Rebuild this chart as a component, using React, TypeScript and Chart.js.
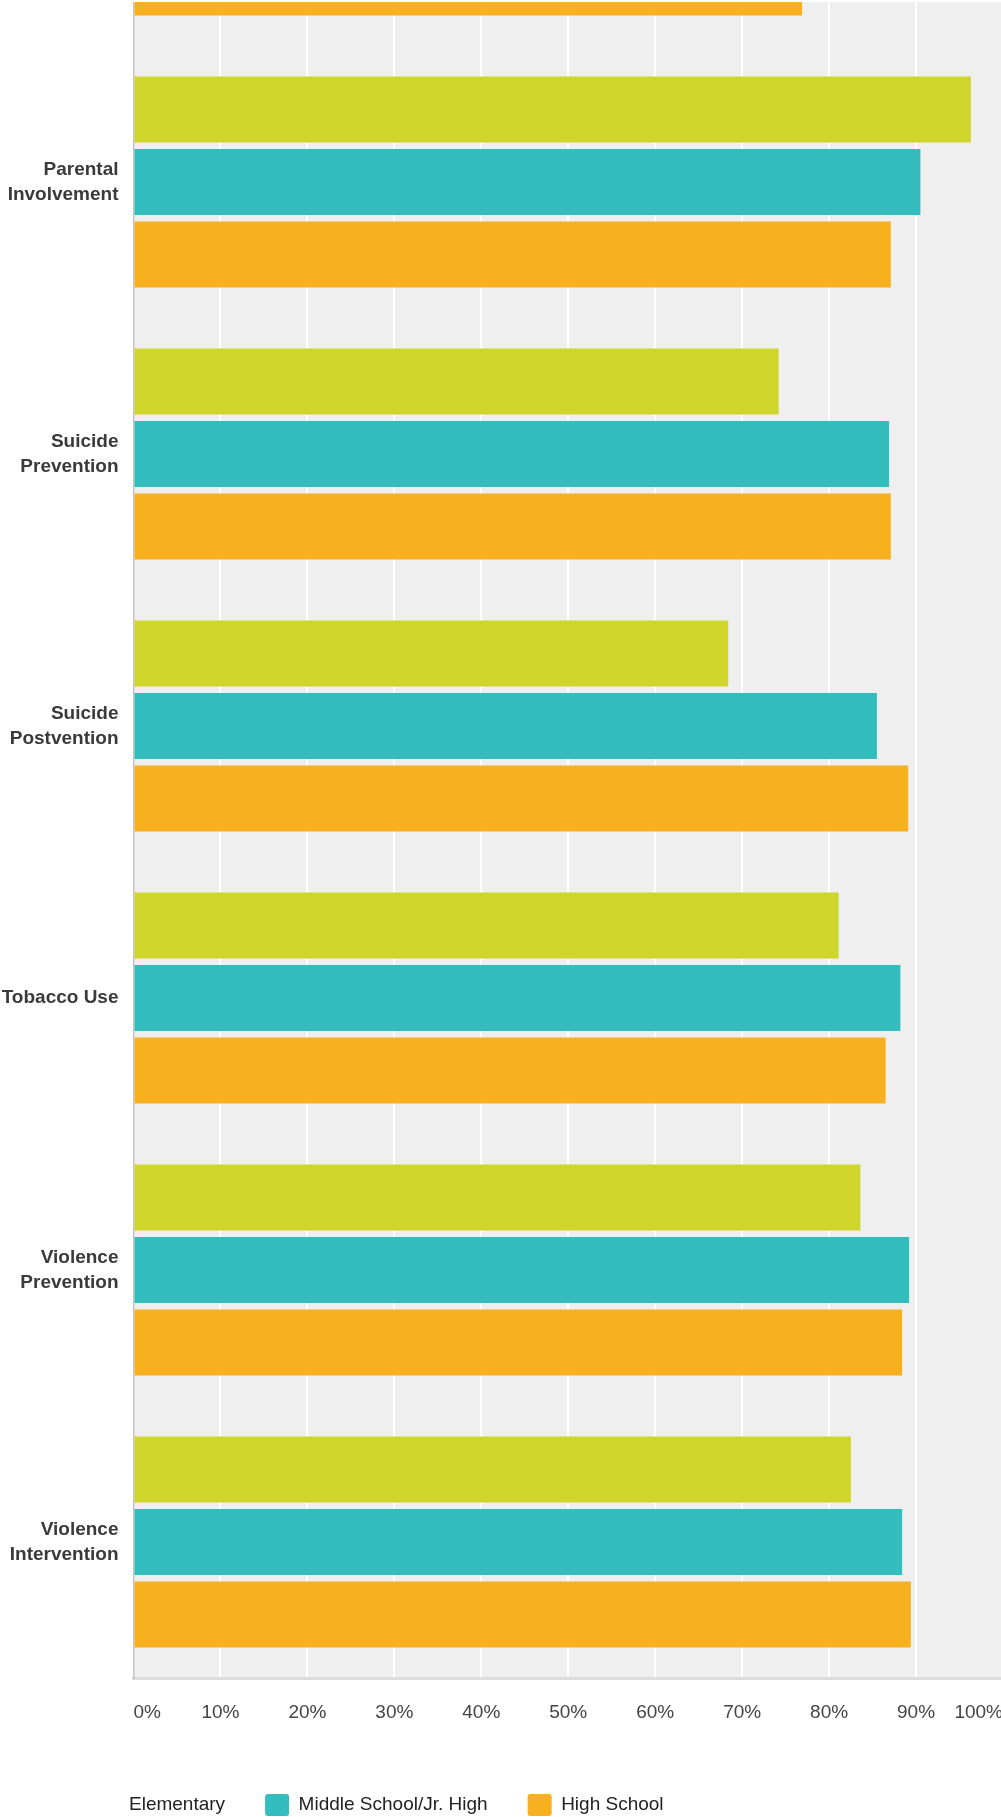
import React, { useEffect, useRef } from "react";
import { Chart, registerables } from "chart.js";

Chart.register(...registerables);

// Categories (the first one is only partly visible at the top of the view)
const categories: (string | string[])[] = [
  "",
  ["Parental", "Involvement"],
  ["Suicide", "Prevention"],
  ["Suicide", "Postvention"],
  "Tobacco Use",
  ["Violence", "Prevention"],
  ["Violence", "Intervention"],
];

const seriesNames = ["Elementary", "Middle School/Jr. High", "High School"];

const elementary: (number | null)[] = [null, 96.3, 74.2, 68.4, 81.1, 83.6, 82.5];
const middleSchool: (number | null)[] = [null, 90.5, 86.9, 85.5, 88.2, 89.2, 88.4];
const highSchool: (number | null)[] = [76.9, 87.1, 87.1, 89.1, 86.5, 88.4, 89.4];

const xTicks = [0, 10, 20, 30, 40, 50, 60, 70, 80, 90, 100];

const COLORS = ["#cfd52a", "#34bdbf", "#f7b01e"];
const FONT = "'Liberation Sans', Arial, Helvetica, sans-serif";

const CANVAS_W = 1033;
const CANVAS_H = 2112;

const plotBg = {
  id: "plotBg",
  beforeDraw(chart: any) {
    const { ctx, chartArea } = chart;
    ctx.save();
    ctx.fillStyle = "#efefef";
    ctx.fillRect(
      chartArea.left,
      chartArea.top,
      chartArea.right - chartArea.left,
      chartArea.bottom - chartArea.top
    );
    ctx.restore();
  },
};

const legendShift = {
  id: "legendShift",
  afterLayout(chart: any) {
    if (chart.legend) {
      chart.legend.left = 55.5;
    }
  },
};

export default function App() {
  const ref = useRef<HTMLCanvasElement | null>(null);

  useEffect(() => {
    if (!ref.current) return;
    const chart = new Chart(ref.current, {
      type: "bar",
      data: {
        labels: categories as any,
        datasets: [elementary, middleSchool, highSchool].map((d, i) => ({
          label: seriesNames[i],
          data: d,
          backgroundColor: COLORS[i],
          borderWidth: 0,
          categoryPercentage: 0.8,
          barPercentage: 0.91,
        })),
      },
      options: {
        indexAxis: "y",
        responsive: false,
        animation: false,
        devicePixelRatio: 1,
        layout: { padding: { top: 60, left: 0, right: 30, bottom: 0 } },
        scales: {
          x: {
            type: "linear",
            position: "bottom",
            min: 0,
            max: 100,
            afterBuildTicks: (scale: any) => {
              scale.ticks = xTicks.map((v) => ({ value: v }));
            },
            afterFit: (scale: any) => {
              scale.height = 76;
            },
            ticks: {
              align: "inner",
              padding: 23,
              color: "#444444",
              font: { family: FONT, size: 19 },
              callback: (v: any) => v + "%",
            },
            grid: {
              drawTicks: false,
              lineWidth: 2,
              color: (ctx: any) =>
                ctx.tick && ctx.tick.value === 0 ? "rgba(0,0,0,0)" : "#ffffff",
            },
            border: { display: true, color: "#dcdcdc", width: 3 },
          },
          y: {
            type: "category",
            afterFit: (scale: any) => {
              scale.width = 133.5;
            },
            ticks: {
              padding: 15,
              color: "#3a3a3a",
              font: { family: FONT, size: 19, weight: "bold", lineHeight: 1.3 },
            },
            grid: { display: false, drawTicks: false },
            border: { display: true, color: "#c4c4c4", width: 1.5 },
          },
        },
        plugins: {
          tooltip: { enabled: false },
          legend: {
            display: true,
            position: "bottom",
            align: "start",
            labels: {
              boxWidth: 24,
              boxHeight: 22,
              padding: 40,
              color: "#222222",
              font: { family: FONT, size: 19 },
              useBorderRadius: true,
              borderRadius: 3,
              generateLabels: (c: any) => {
                const items = (Chart as any).defaults.plugins.legend.labels.generateLabels(c);
                items.forEach((it: any, i: number) => {
                  it.lineWidth = 0;
                  it.borderRadius = 3;
                  if (i === 0) {
                    it.fillStyle = "rgba(0,0,0,0)";
                    it.strokeStyle = "rgba(0,0,0,0)";
                  }
                });
                return items;
              },
            },
          },
        },
      },
      plugins: [plotBg, legendShift],
    } as any);
    return () => chart.destroy();
  }, []);

  return (
    <div
      style={{
        position: "fixed",
        left: 0,
        top: 2,
        width: 1001,
        height: 1815,
        overflow: "hidden",
        background: "#ffffff",
      }}
    >
      <canvas
        ref={ref}
        width={CANVAS_W}
        height={CANVAS_H}
        style={{
          position: "absolute",
          left: 0,
          top: -288,
          width: CANVAS_W,
          height: CANVAS_H,
        }}
      />
    </div>
  );
}
